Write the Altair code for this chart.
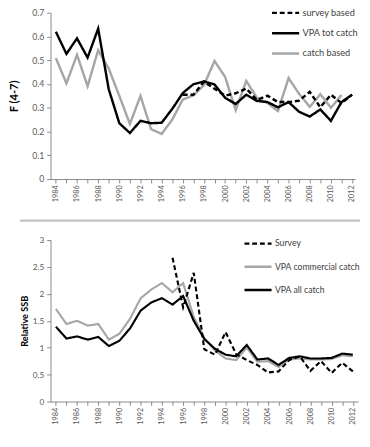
import altair as alt
import pandas as pd

years = list(range(1984, 2013))

# ---- top panel: F(4-7) ----
top_names = ["survey based", "VPA tot catch", "catch based"]
f_survey_based = [None] * 12 + [0.355, 0.355, 0.41, 0.38, 0.351, 0.361, 0.381, 0.333, 0.351,
                                0.324, 0.324, 0.33, 0.367, 0.302, 0.355, 0.32, 0.355]
f_vpa_tot_catch = [0.62, 0.527, 0.592, 0.511, 0.633, 0.378, 0.235, 0.194, 0.245, 0.235,
                   0.237, 0.295, 0.362, 0.399, 0.411, 0.398, 0.342, 0.316, 0.355, 0.329,
                   0.324, 0.302, 0.324, 0.283, 0.263, 0.293, 0.245, 0.324, 0.355]
f_catch_based = [0.509, 0.403, 0.523, 0.391, 0.542, 0.465, 0.35, 0.232, 0.35, 0.21,
                 0.19, 0.25, 0.335, 0.352, 0.395, 0.497, 0.43, 0.29, 0.413, 0.342,
                 0.32, 0.286, 0.425, 0.358, 0.304, 0.357, 0.30, 0.354, None]
top_ticks = [0, 0.1, 0.2, 0.3, 0.4, 0.5, 0.6, 0.7]

# ---- bottom panel: relative SSB ----
bottom_names = ["Survey", "VPA commercial catch", "VPA all catch"]
ssb_survey = [None] * 11 + [2.67, 1.75, 2.39, 0.97, 0.87, 1.29, 0.88, 0.77, 0.68, 0.54,
                            0.56, 0.77, 0.84, 0.57, 0.75, 0.53, 0.72, 0.56]
ssb_vpa_commercial = [1.72, 1.44, 1.50, 1.41, 1.44, 1.15, 1.26, 1.54, 1.92, 2.08,
                      2.20, 2.03, 2.20, 1.57, 1.18, 0.95, 0.80, 0.77, 1.00, 0.74,
                      0.75, 0.64, 0.78, 0.80, 0.78, 0.78, 0.79, 0.86, 0.84]
ssb_vpa_all = [1.39, 1.17, 1.21, 1.15, 1.20, 1.03, 1.13, 1.36, 1.69, 1.84,
               1.92, 1.80, 1.96, 1.50, 1.16, 0.98, 0.87, 0.84, 1.05, 0.78,
               0.80, 0.68, 0.81, 0.84, 0.80, 0.80, 0.81, 0.89, 0.87]
bottom_ticks = [0, 0.5, 1, 1.5, 2, 2.5, 3]


def to_long(names, series, field):
    rows = []
    for name, vals in zip(names, series):
        for yr, v in zip(years, vals):
            if v is not None:
                rows.append({"year": yr, "value": v, field: name})
    return pd.DataFrame(rows)


top_df = to_long(top_names, [f_survey_based, f_vpa_tot_catch, f_catch_based], "f_series")
bottom_df = to_long(bottom_names, [ssb_survey, ssb_vpa_commercial, ssb_vpa_all], "ssb_series")

GRAY = "#a6a6a6"
BLACK = "#000000"
AXIS_COL = "#868686"
LABEL_COL = "#595959"
FONT = "Lato"


def panel(df, field, names, colors, dashes, draw_order, widths, xmax, ydomain, yticks,
          ytitle, title_size, title_x, label_size, width, height, legend_x, legend_y,
          legend_label_size, row_pad, sep_rules):
    x = alt.X("year:Q",
              scale=alt.Scale(domain=[1983.5, xmax], nice=False, zero=False),
              axis=alt.Axis(values=years, format="d",
                            labelExpr="datum.value % 2 == 0 ? datum.label : ''",
                            labelAngle=-90, labelOverlap=False, labelFontSize=7.5,
                            labelPadding=2, tickSize=4),
              title=None)
    y = alt.Y("value:Q",
              scale=alt.Scale(domain=ydomain, nice=False, zero=True),
              axis=alt.Axis(values=yticks, format="~g", labelFontSize=label_size,
                            labelPadding=3, tickSize=4,
                            titleFontSize=title_size, titleFontWeight="bold",
                            titleColor="#000000", titleX=title_x, titleY=height / 2,
                            titleAlign="center", titleBaseline="middle",
                            titleAngle=270),
              title=ytitle)
    leg = alt.Legend(title=None, orient="none", legendX=legend_x, legendY=legend_y,
                     symbolType="stroke", symbolSize=784, symbolStrokeWidth=2.5,
                     labelFont=FONT, labelFontSize=legend_label_size,
                     labelColor="#404040", labelOffset=2, rowPadding=row_pad,
                     padding=0)
    color = alt.Color(f"{field}:N", scale=alt.Scale(domain=names, range=colors), legend=leg)
    dash = alt.StrokeDash(f"{field}:N", scale=alt.Scale(domain=names, range=dashes), legend=leg)
    layers = []
    for n in draw_order:
        layers.append(
            alt.Chart(df).transform_filter(alt.FieldEqualPredicate(field=field, equal=n))
            .mark_line(strokeWidth=widths[n], strokeJoin="miter")
            .encode(x=x, y=y, color=color, strokeDash=dash)
        )
    for (x1, x2, yy) in sep_rules:
        layers.append(
            alt.Chart(alt.Data(values=[{}])).mark_rule(color="#c3c3c3", strokeWidth=2.5)
            .encode(x=alt.value(x1), x2=alt.value(x2), y=alt.value(yy))
        )
    return alt.layer(*layers).properties(width=width, height=height)


top = panel(
    top_df, "f_series", top_names, [BLACK, BLACK, GRAY], [[5, 3], [1, 0], [1, 0]],
    ["catch based", "survey based", "VPA tot catch"],
    {"catch based": 2.5, "survey based": 2.5, "VPA tot catch": 2.5},
    2012.3, [0, 0.7], top_ticks, "F (4-7)", 11.5, -36.75, 9, 315, 172,
    227.5, -15.3, 9.5, 0, [],
)

bottom = panel(
    bottom_df, "ssb_series", bottom_names, [BLACK, GRAY, BLACK], [[5, 3], [1, 0], [1, 0]],
    ["VPA commercial catch", "VPA all catch", "Survey"],
    {"VPA commercial catch": 2.2, "VPA all catch": 2.2, "Survey": 2.2},
    2012.5, [0, 3], bottom_ticks, "Relative SSB", 9.5, -26.75, 8.5, 318, 167,
    199, -11.8, 9, 3, [(-31.5, 320, -20)],
)

chart = alt.concat(top, bottom, columns=1, spacing=17, align="none").resolve_scale(
    color="independent", strokeDash="independent", x="independent", y="independent"
).resolve_legend(
    color="independent", strokeDash="independent"
).properties(
    padding={"left": 1, "right": 0, "top": -18.3, "bottom": 0}, background="white"
).configure_view(stroke=None).configure_axis(
    grid=False, domainColor=AXIS_COL, tickColor=AXIS_COL, labelColor=LABEL_COL,
    labelFont=FONT, titleFont=FONT, domainWidth=1, tickWidth=1
)

chart.save("out.html", embed_options={"renderer": "svg", "actions": False})
